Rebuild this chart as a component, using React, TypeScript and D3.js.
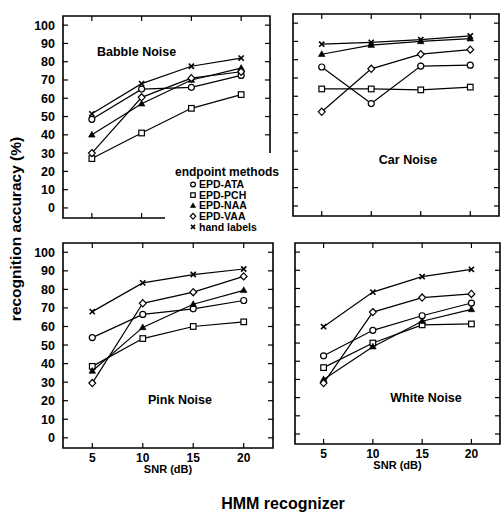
import * as d3 from 'd3';

const snr = [5, 10, 15, 20];
const yTicks = [0, 10, 20, 30, 40, 50, 60, 70, 80, 90, 100];
const methods = ['EPD-ATA', 'EPD-PCH', 'EPD-NAA', 'EPD-VAA', 'hand labels'];
const markers = ['circle', 'square', 'triangle', 'diamond', 'cross'];

// rows follow the order of `methods`
const babbleNoise = [
  [48.5, 65, 66, 72.5],
  [27, 41, 54.5, 62],
  [40, 57, 70, 76.5],
  [30, 60.5, 71, 74.5],
  [51.5, 68, 77.5, 82],
];
const carNoise = [
  [76, 56, 76.5, 77],
  [64, 64, 63.5, 65],
  [83, 88, 90, 91.5],
  [51.5, 75, 83, 85.5],
  [88.5, 89.5, 91, 93],
];
const pinkNoise = [
  [54, 66.5, 69.5, 74],
  [38.5, 53.5, 60, 62.5],
  [36, 59.5, 72, 79.5],
  [29.5, 72.5, 78.5, 87],
  [68, 83.5, 88, 91],
];
const whiteNoise = [
  [43, 57, 65, 72],
  [36.5, 50, 60, 60.5],
  [30, 48, 62, 68.5],
  [28, 67, 75, 77],
  [59, 78, 86.5, 90.5],
];

const FONT = "'Liberation Sans', Arial, Helvetica, sans-serif";

const panels = [
  { title: 'Babble Noise', data: babbleNoise, box: [63, 16, 270, 218], titleAt: [97, 56, 'start'], yLabels: true, xLabels: false, cut: [165, 153] },
  { title: 'Car Noise', data: carNoise, box: [293, 14, 499, 216], titleAt: [408, 164, 'middle'], yLabels: false, xLabels: false },
  { title: 'Pink Noise', data: pinkNoise, box: [63, 243, 273, 448], titleAt: [180, 404, 'middle'], yLabels: true, xLabels: true },
  { title: 'White Noise', data: whiteNoise, box: [295, 243, 500, 444], titleAt: [426, 402, 'middle'], yLabels: false, xLabels: true },
];

function Marker({ type, x, y, k = 1 }: { type: string; x: number; y: number; k?: number }) {
  const s = { stroke: '#000', strokeWidth: 1.2 };
  if (type === 'circle') return <circle cx={x} cy={y} r={3 * k} fill="#fff" {...s} />;
  if (type === 'square') return <rect x={x - 2.8 * k} y={y - 2.8 * k} width={5.6 * k} height={5.6 * k} fill="#fff" {...s} />;
  if (type === 'triangle') return <path d={`M${x},${y - 3.5 * k}L${x + 3.3 * k},${y + 2.3 * k}L${x - 3.3 * k},${y + 2.3 * k}Z`} fill="#000" {...s} strokeWidth={0.6} />;
  if (type === 'diamond') return <path d={`M${x},${y - 3.6 * k}L${x + 3.4 * k},${y}L${x},${y + 3.6 * k}L${x - 3.4 * k},${y}Z`} fill="#fff" {...s} />;
  const c = 2.6 * k;
  return <path d={`M${x - c},${y - c}L${x + c},${y + c}M${x - c},${y + c}L${x + c},${y - c}`} stroke="#000" strokeWidth={1.6} fill="none" />;
}

function Panel({ p }: { p: any }) {
  const [x0, y0, x1, y1] = p.box;
  const x = d3.scaleLinear().domain([2.1, 22.9]).range([x0, x1]);
  const y = d3.scaleLinear().domain([-5.5, 105]).range([y1, y0]);
  const line = d3.line<number>().x((_, i) => x(snr[i])).y((d) => y(d));
  const cutX = p.cut ? p.cut[0] : x1;
  const cutY = p.cut ? p.cut[1] : y1;
  const frame = p.cut
    ? `M${cutX},${y1}H${x0}V${y0}H${x1}V${cutY}`
    : `M${x0},${y0}H${x1}V${y1}H${x0}Z`;
  const tl = 5;
  return (
    <g>
      <path d={frame} fill="none" stroke="#000" strokeWidth={1.6} />
      {yTicks.map((t) => (
        <g key={'y' + t}>
          <line x1={x0} x2={x0 + tl} y1={y(t)} y2={y(t)} stroke="#000" strokeWidth={1.2} />
          {y(t) < cutY - 1 && <line x1={x1} x2={x1 - tl} y1={y(t)} y2={y(t)} stroke="#000" strokeWidth={1.2} />}
          {p.yLabels && (
            <text x={x0 - 8} y={y(t)} dy="0.36em" textAnchor="end" fontSize={12.5} fontWeight="bold" fontFamily={FONT}>{t}</text>
          )}
        </g>
      ))}
      {snr.map((s) => (
        <g key={'x' + s}>
          <line x1={x(s)} x2={x(s)} y1={y0} y2={y0 + tl} stroke="#000" strokeWidth={1.2} />
          {x(s) < cutX - 1 && <line x1={x(s)} x2={x(s)} y1={y1} y2={y1 - tl} stroke="#000" strokeWidth={1.2} />}
          {p.xLabels && (
            <text x={x(s)} y={y1 + 14} textAnchor="middle" fontSize={12} fontWeight="bold" fontFamily={FONT}>{s}</text>
          )}
        </g>
      ))}
      {p.xLabels && (
        <text x={(x(5) + x(20)) / 2} y={y1 + 25} textAnchor="middle" fontSize={11} fontWeight="bold" fontFamily={FONT}>SNR (dB)</text>
      )}
      {p.data.map((row: number[], i: number) => (
        <g key={'s' + i}>
          <path d={line(row) || ''} fill="none" stroke="#000" strokeWidth={1.2} />
          {row.map((v, j) => (
            <Marker key={j} type={markers[i]} x={x(snr[j])} y={y(v)} />
          ))}
        </g>
      ))}
      <text x={p.titleAt[0]} y={p.titleAt[1]} textAnchor={p.titleAt[2]} fontSize={12.5} fontWeight="bold" fontFamily={FONT}>{p.title}</text>
    </g>
  );
}

export default function App() {
  return (
    <svg width={502} height={512} style={{ position: 'absolute', left: 0, top: 0, background: '#fff' }}>
      <rect width={502} height={512} fill="#fff" />
      {panels.map((p) => <Panel key={p.title} p={p} />)}
      <text x={175} y={176} fontSize={12} fontWeight="bold" fontFamily={FONT}>endpoint methods</text>
      {methods.map((m, i) => (
        <g key={m}>
          <Marker type={markers[i]} x={193} y={184.5 + i * 10.6} k={0.8} />
          <text x={199} y={184.5 + i * 10.6} dy="0.36em" fontSize={10.5} fontWeight="bold" fontFamily={FONT}>{m}</text>
        </g>
      ))}
      <text transform="translate(21,229) rotate(-90)" textAnchor="middle" fontSize={15.5} fontWeight="bold" fontFamily={FONT}>recognition accuracy (%)</text>
      <text x={283} y={509} textAnchor="middle" fontSize={16} fontWeight="bold" fontFamily={FONT}>HMM recognizer</text>
    </svg>
  );
}
